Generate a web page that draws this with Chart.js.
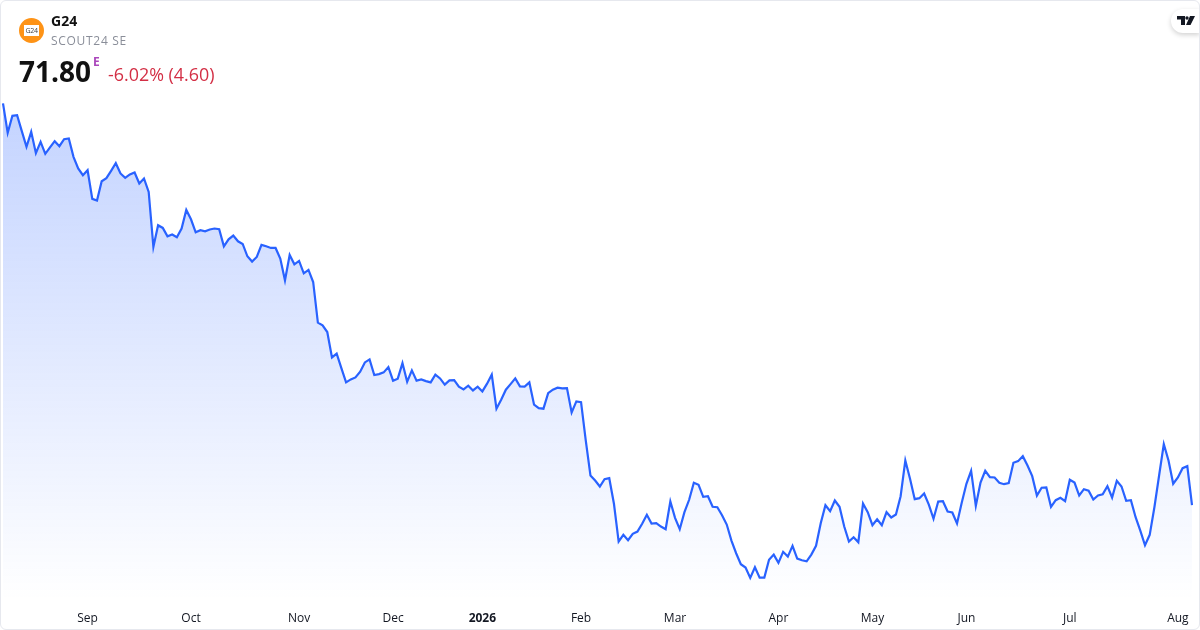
<!DOCTYPE html>
<html><head><meta charset="utf-8">
<script src="https://cdn.jsdelivr.net/npm/chart.js@4"></script>
<style>
html,body{margin:0;padding:0;background:#fff;width:1200px;height:630px;overflow:hidden;font-family:"Open Sans",sans-serif}
#wrap{position:absolute;left:0;top:0;width:1198px;height:628px;border:1px solid #e6e8ee;border-radius:6px;overflow:hidden;background:#fff}
#c{position:absolute;left:-1px;top:-1px}
.t{position:absolute;white-space:nowrap}
#logo{position:absolute;left:18px;top:17px;width:25px;height:25px;border-radius:50%;background:#fe9316}
#logo span{position:absolute;left:5px;top:7px;width:15px;height:11px;background:#fff;color:#444;font-size:7px;line-height:11px;text-align:center;font-weight:400;letter-spacing:-.3px}
#tv{position:absolute;right:-1px;top:8px;width:29px;height:24px;background:#fff;border-radius:12px 0 0 12px;box-shadow:0 2px 5px rgba(0,0,0,.18)}
</style></head><body>
<div id="wrap">
<canvas id="c" width="1200" height="630"></canvas>
<div id="logo"><span>G24</span></div>
<div class="t" style="left:50px;top:10px;font-size:14px;font-weight:700;color:#111;line-height:19px">G24</div>
<div class="t" style="left:50px;top:31px;font-size:12px;color:#8a8e99;letter-spacing:.7px;line-height:18px">SCOUT24 SE</div>
<div class="t" style="left:18px;top:51px;font-size:28px;font-weight:700;color:#111;line-height:38px">71.80</div>
<div class="t" style="left:92px;top:53px;font-size:12px;font-weight:700;color:#ab47bc;line-height:15px">E</div>
<div class="t" style="left:107px;top:61px;font-size:17.9px;color:#d32f45;line-height:25px">-6.02% (4.60)</div>
<div id="tv"><svg width="18" height="9" viewBox="0 0 18 9" style="position:absolute;left:6px;top:7px"><path fill="#131722" d="M0 0h8v9H4V3.500H0zM13 0h5l-4.500 9H9z"/><circle fill="#131722" cx="10" cy="2" r="1.700"/></svg></div>
</div>
<script>
const values = [
119.97,116.44,118.48,118.56,116.64,114.76,116.56,114.00,115.36,113.92,114.69,115.44,114.84,115.68,115.77,113.56,112.17,111.36,111.96,108.52,
108.33,110.64,111.00,111.88,112.80,111.57,111.04,111.45,111.69,110.37,110.97,109.36,102.76,105.36,105.04,104.04,104.25,103.92,104.97,107.20,
106.08,104.52,104.76,104.64,104.85,104.97,104.88,102.84,103.68,104.13,103.44,103.12,101.64,101.01,101.56,103.00,102.84,102.64,102.64,101.37,
98.76,101.80,100.68,101.08,99.60,100.00,98.56,93.69,93.36,92.56,89.52,89.97,88.24,86.52,86.88,87.12,87.81,88.92,89.28,87.40,
87.52,87.72,88.36,86.73,86.97,88.84,86.61,87.96,86.73,86.88,86.68,86.52,87.45,87.00,86.25,86.76,86.80,86.01,85.68,86.13,
85.56,86.01,85.44,86.37,87.45,83.37,84.45,85.65,86.32,87.00,86.04,86.01,86.52,83.85,83.44,83.37,85.24,85.65,85.89,85.80,
85.84,82.92,84.24,84.16,79.56,75.36,74.76,74.04,74.92,75.04,71.97,67.44,68.25,67.60,68.37,68.64,69.57,70.65,69.60,69.64,
69.24,68.92,72.24,70.29,68.92,70.96,72.45,74.49,74.25,72.81,72.88,71.61,71.56,70.60,69.48,67.56,66.04,64.72,64.32,63.09,
64.36,63.12,63.12,65.25,65.88,64.89,66.21,65.64,66.93,65.40,65.20,65.08,65.88,66.93,69.64,71.80,71.08,72.36,71.61,69.24,
67.44,67.96,67.36,72.00,70.96,69.40,70.12,69.40,70.96,70.32,70.68,72.88,77.16,74.97,72.52,72.64,73.20,71.88,70.17,72.24,
72.28,71.04,70.92,69.60,72.09,74.37,75.93,71.73,74.52,75.93,75.16,75.12,74.49,74.32,74.44,76.89,77.08,77.68,76.56,75.28,
72.96,73.89,73.92,71.61,72.40,72.69,72.28,74.85,74.52,72.96,73.72,73.53,72.48,72.96,73.12,74.08,72.72,74.73,74.04,72.33,
72.40,70.36,68.76,67.00,68.25,71.56,75.36,79.12,77.16,74.37,75.12,76.24,76.48,71.80];
const tickLabels = ["Sep","Oct","Nov","Dec","2026","Feb","Mar","Apr","May","Jun","Jul","Aug"];
const tickIndexes = [18,40,63,83,102,123,143,165,185,205,227,250];
const categories = values.map((_, i) => { const k = tickIndexes.indexOf(i); return k >= 0 ? tickLabels[k] : ""; });

new Chart(document.getElementById("c"), {
  type: "line",
  data: { labels: categories, datasets: [{
    data: values,
    borderColor: "#2962ff",
    borderWidth: 2.2,
    pointRadius: 0,
    tension: 0,
    fill: "start",
    backgroundColor: (ctx) => {
      const a = ctx.chart.chartArea;
      if (!a) return "rgba(41,98,255,.25)";
      const g = ctx.chart.ctx.createLinearGradient(0, 103, 0, a.bottom);
      g.addColorStop(0, "rgba(41,98,255,0.28)");
      g.addColorStop(1, "rgba(41,98,255,0)");
      return g;
    }
  }]},
  options: {
    responsive: false, animation: false,
    layout: { padding: { left: 3, right: 8, top: 0, bottom: 1 } },
    plugins: { legend: { display: false }, tooltip: { enabled: false } },
    scales: {
      y: { display: false, min: 60.364, max: 132.364 },
      x: {
        grid: { display: false }, border: { display: false },
        ticks: {
          autoSkip: false, maxRotation: 0, minRotation: 0, padding: 3, color: "#131722",
          font: (ctx) => ({ family: "'Open Sans'", size: 12, weight: ctx.tick && ctx.tick.label === "2026" ? "700" : "400" }),
          callback(v) { const s = this.getLabelForValue(v); return s === "" ? null : s; }
        }
      }
    }
  }
});
</script>
</body></html>
